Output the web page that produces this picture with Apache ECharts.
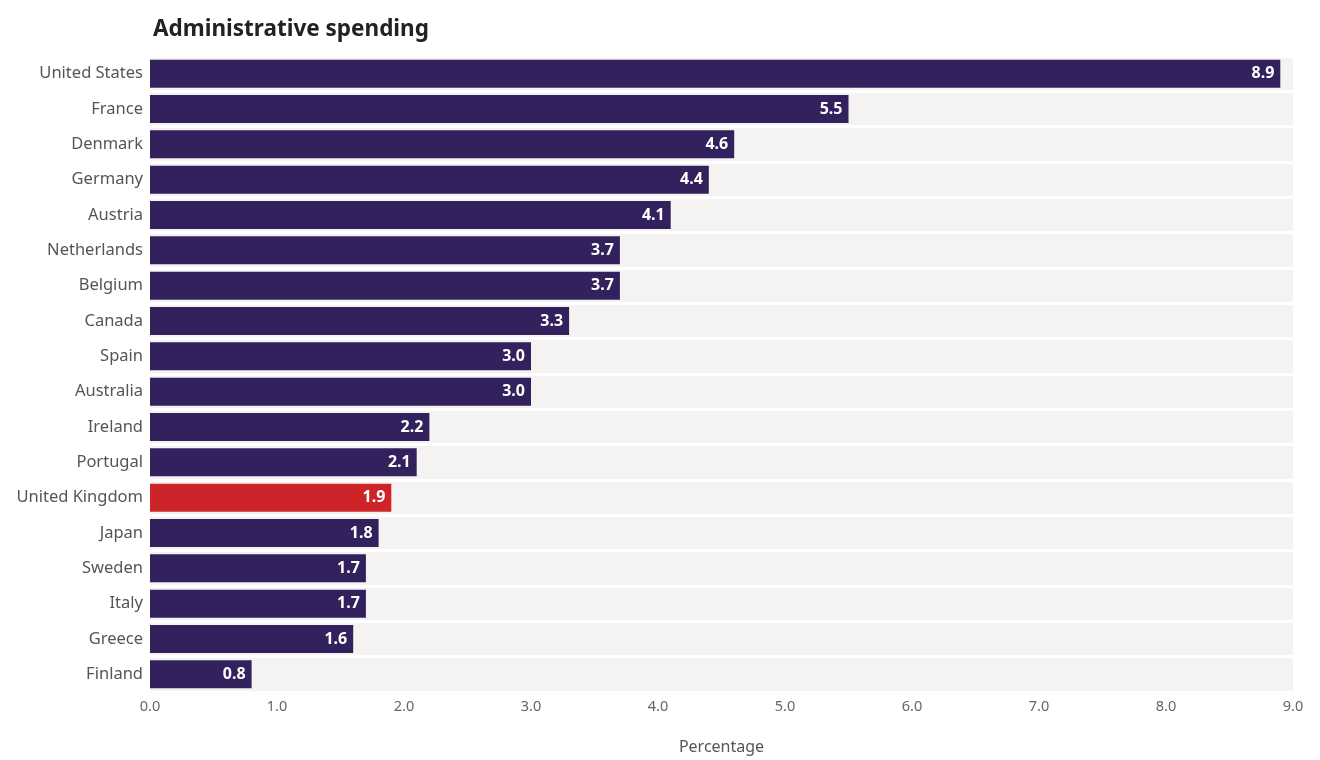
<!DOCTYPE html>
<html>
<head>
<meta charset="utf-8">
<script src="https://cdn.jsdelivr.net/npm/echarts@6/dist/echarts.min.js"></script>
<style>
  html, body { margin: 0; padding: 0; background: #fff; }
  #chart { width: 1320px; height: 760px; }
</style>
</head>
<body>
<div id="chart"></div>
<script>
const countries = ['United States', 'France', 'Denmark', 'Germany', 'Austria', 'Netherlands', 'Belgium', 'Canada', 'Spain', 'Australia', 'Ireland', 'Portugal', 'United Kingdom', 'Japan', 'Sweden', 'Italy', 'Greece', 'Finland'];
const spending = [8.9, 5.5, 4.6, 4.4, 4.1, 3.7, 3.7, 3.3, 3.0, 3.0, 2.2, 2.1, 1.9, 1.8, 1.7, 1.7, 1.6, 0.8];
const highlight = 'United Kingdom';

const chart = echarts.init(document.getElementById('chart'));
const font = 'Noto Sans';

const option = {
  animation: false,
  title: {
    text: 'Administrative spending',
    left: 148,
    top: 13,
    textStyle: { fontFamily: font, fontSize: 22.5, fontWeight: 'bold', color: '#222' }
  },
  grid: { left: 150, right: 27, top: 56, bottom: 67 },
  xAxis: {
    type: 'value',
    min: 0,
    max: 9,
    interval: 1,
    name: 'Percentage',
    nameLocation: 'middle',
    nameGap: 47,
    nameTextStyle: { fontFamily: font, fontSize: 16, color: '#555' },
    axisLine: { show: false },
    axisTick: { show: false },
    splitLine: { show: false },
    axisLabel: {
      fontFamily: font, fontSize: 14.5, color: '#666', margin: 7,
      formatter: v => v.toFixed(1)
    }
  },
  yAxis: {
    type: 'category',
    data: countries,
    inverse: true,
    axisLine: { show: false },
    axisTick: { show: false },
    axisLabel: { fontFamily: font, fontSize: 16.5, color: '#555', margin: 7 },
    splitArea: { show: true, areaStyle: { color: ['#f4f3f1'] } },
    splitLine: { show: true, lineStyle: { color: '#fff', width: 3 } }
  },
  series: [{
    type: 'bar',
    barWidth: 28,
    data: spending.map((v, i) => ({
      value: v,
      itemStyle: { color: countries[i] === highlight ? '#cc2428' : '#33215e' }
    })),
    label: {
      show: true,
      position: 'insideRight',
      distance: 6,
      color: '#fff',
      fontFamily: font,
      fontSize: 16,
      fontWeight: 'bold',
      formatter: p => p.value.toFixed(1)
    }
  }]
};
chart.setOption(option);
</script>
</body>
</html>
